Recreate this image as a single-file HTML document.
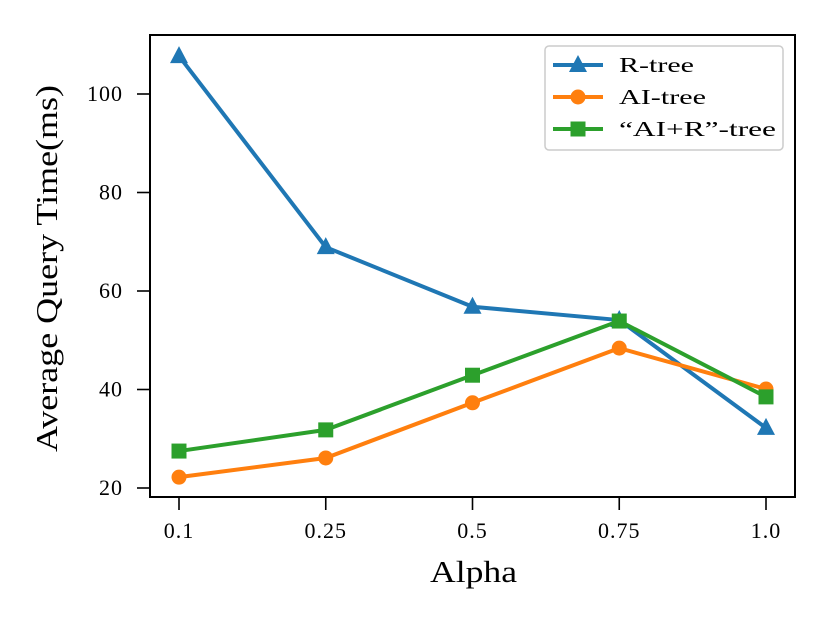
<!DOCTYPE html>
<html><head><meta charset="utf-8"><style>
html,body{margin:0;padding:0;background:#fff;}
svg{display:block;font-family:"Liberation Serif",serif;}
</style></head><body>
<svg id="chart" width="831" height="623" viewBox="0 0 831 623"></svg>
<script>
const categories = ["0.1","0.25","0.5","0.75","1.0"];
const rtree = [107.7, 68.9, 56.8, 54.1, 32.2];
const aitree = [22.2, 26.1, 37.3, 48.4, 40.1];
const airtree = [27.5, 31.8, 42.9, 53.9, 38.5];
const yTicks = [20, 40, 60, 80, 100];
const seriesNames = ["R-tree", "AI-tree", "\u201cAI+R\u201d-tree"];

const NS = "http://www.w3.org/2000/svg";
const svg = document.getElementById("chart");
const L = 150, R = 795, T = 35, B = 497;
function xs(i){ return 179 + i * 146.75; }
function ys(v){ return 488 - (v - 20) * 4.925; }
function mk(tag, attrs, parent){
  const e = document.createElementNS(NS, tag);
  for (const k in attrs) e.setAttribute(k, attrs[k]);
  (parent || svg).appendChild(e);
  return e;
}

yTicks.forEach(v => {
  const g = mk("g", {});
  
  
  mk("line", {x1: L - 13, x2: L, y1: ys(v), y2: ys(v), stroke: "#000", "stroke-width": 1.6}, g);
  const t = mk("text", {x: L - 27, y: ys(v) + 7, "text-anchor": "end", "font-size": 22, "letter-spacing": 1}, g);
  t.textContent = v;
});
categories.forEach((c, i) => {
  const g = mk("g", {});
  
  
  mk("line", {x1: xs(i), x2: xs(i), y1: B, y2: B + 13, stroke: "#000", "stroke-width": 1.6}, g);
  const t = mk("text", {x: xs(i), y: B + 41, "text-anchor": "middle", "font-size": 22, "letter-spacing": 1}, g);
  t.textContent = c;
});

const series = [
  {name: seriesNames[0], data: rtree, color: "#1f77b4", marker: "tri", w: 75},
  {name: seriesNames[1], data: aitree, color: "#ff7f0e", marker: "circ", w: 87},
  {name: seriesNames[2], data: airtree, color: "#2ca02c", marker: "sq", w: 157}
];
function marker(type, x, y, color, parent){
  if (type === "tri") return mk("polygon", {points: `${x},${y-10} ${x-9},${y+7} ${x+9},${y+7}`, fill: color}, parent);
  if (type === "circ") return mk("circle", {cx: x, cy: y, r: 7.5, fill: color}, parent);
  return mk("rect", {x: x - 7.5, y: y - 7.5, width: 15, height: 15, fill: color}, parent);
}
series.forEach((s, si) => {
  const g = mk("g", {});
  
  
  mk("polyline", {points: s.data.map((v, i) => xs(i) + "," + ys(v)).join(" "), fill: "none", stroke: s.color, "stroke-width": 4, "stroke-linejoin": "round"}, g);
  s.data.forEach((v, i) => {
    const m = marker(s.marker, xs(i), ys(v), s.color, g);
    
    
  });
});

const frame = mk("rect", {x: L, y: T, width: R - L, height: B - T, fill: "none", stroke: "#000", "stroke-width": 2});



const lg = mk("g", {});


mk("rect", {x: 545, y: 46, width: 238, height: 104, rx: 4, fill: "#fff", "fill-opacity": 0.8, stroke: "#ccc", "stroke-width": 1.5}, lg);
series.forEach((s, i) => {
  const y = 65 + i * 32;
  const e = mk("g", {}, lg);
  
  
  mk("line", {x1: 553, x2: 603, y1: y, y2: y, stroke: s.color, "stroke-width": 4}, e);
  marker(s.marker, 578, y, s.color, e);
  const t = mk("text", {x: 619, y: y + 7, "font-size": 21, textLength: s.w, lengthAdjust: "spacingAndGlyphs"}, e);
  t.textContent = s.name;
});

const xt = mk("text", {x: 430, y: 582, "font-size": 31, textLength: 87, lengthAdjust: "spacingAndGlyphs"});
xt.textContent = "Alpha";


const yt = mk("text", {x: 0, y: 0, "font-size": 31, textLength: 367, lengthAdjust: "spacingAndGlyphs", transform: "translate(57,452) rotate(-90)"});
yt.textContent = "Average Query Time(ms)";


</script>
</body></html>
